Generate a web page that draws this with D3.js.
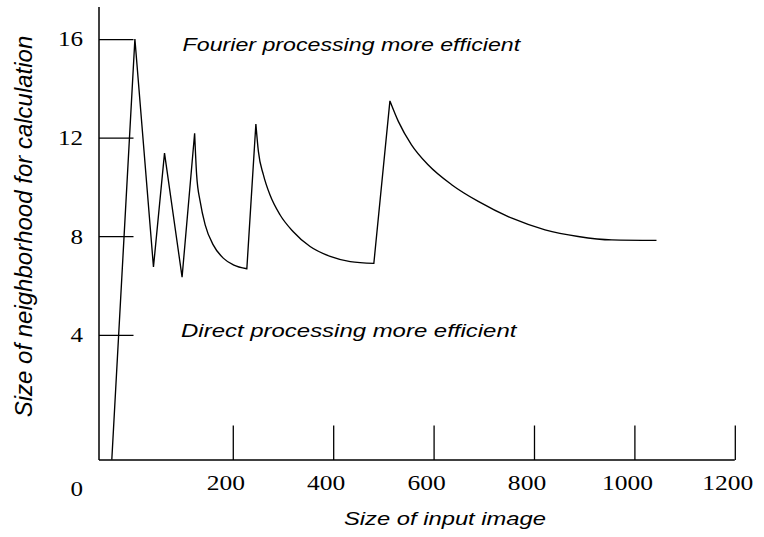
<!DOCTYPE html>
<html>
<head>
<meta charset="utf-8">
<script src="https://cdn.jsdelivr.net/npm/d3@7"></script>
<style>
  html, body { margin: 0; padding: 0; background: #fff; }
  svg { display: block; }
</style>
</head>
<body>
<div id="chart"></div>
<script>
// ---- data ----
const inputSize = [-41, 5, 42, 64, 99, 124, 128, 135, 145, 161, 181, 201, 228,
  246, 251, 261, 274, 294, 320, 354, 394, 434, 481,
  513, 530, 556, 589, 636, 689, 756, 822, 888, 955, 1044];
const neighborhood = [-1.07, 16.0, 6.75, 11.37, 6.34, 12.18, 10.49, 9.41, 8.46, 7.65, 7.11, 6.84, 6.68,
  12.55, 11.44, 10.49, 9.68, 8.87, 8.19, 7.58, 7.18, 6.97, 6.90,
  13.49, 12.65, 11.71, 10.90, 10.09, 9.41, 8.73, 8.26, 7.99, 7.85, 7.83];
// index ranges of the smooth (decaying) parts of the curve
const curvedRuns = [[5, 12], [13, 22], [23, 33]];

const xTickValues = [200, 400, 600, 800, 1000, 1200];
const yTickValues = [4, 8, 12, 16];
const originLabel = "0";
const xTitle = "Size of input image";
const yTitle = "Size of neighborhood for calculation";
const annotations = ["Fourier processing more efficient", "Direct processing more efficient"];
const annotationSize = [100, 97];
const annotationLevel = [15.5, 3.9];

// ---- layout ----
const W = 764, H = 537;
const svg = d3.select("#chart").append("svg").attr("width", W).attr("height", H);

const x = d3.scaleLinear().domain([-66.5, 1200]).range([99, 734.8]);
const y = d3.scaleLinear().domain([-1.08, 17.3]).range([460, 7]);

const serif = "'Liberation Serif', 'Times New Roman', serif";
const sans = "'Liberation Sans', Arial, Helvetica, sans-serif";

function stretch(sel, k) {
  sel.each(function () {
    const len = this.getComputedTextLength();
    d3.select(this).attr("textLength", len * k).attr("lengthAdjust", "spacingAndGlyphs");
  });
}

// axes lines
const x0 = x.range()[0], yBase = y.range()[0];
svg.append("line").attr("x1", x0).attr("x2", x0).attr("y1", y(17.3)).attr("y2", yBase)
  .attr("stroke", "#000").attr("stroke-width", 1.5);
svg.append("line").attr("x1", x0).attr("x2", x(1200)).attr("y1", yBase).attr("y2", yBase)
  .attr("stroke", "#000").attr("stroke-width", 1.5);

// y axis ticks (inward)
const gy = svg.append("g").attr("transform", `translate(${x0},0)`)
  .call(d3.axisLeft(y).tickValues(yTickValues).tickSizeInner(-34.5).tickSizeOuter(0).tickPadding(16).tickFormat(d3.format("d")));
gy.select(".domain").remove();
gy.selectAll(".tick line").attr("stroke", "#000").attr("stroke-width", 1.3);
gy.selectAll(".tick text").attr("font-family", serif).attr("font-size", 22).attr("fill", "#000")
  .attr("dy", "0.31em");
stretch(gy.selectAll(".tick text"), 1.14);

// x axis ticks (inward)
const gx = svg.append("g").attr("transform", `translate(0,${yBase})`)
  .call(d3.axisBottom(x).tickValues(xTickValues).tickSizeInner(-34.5).tickSizeOuter(0).tickPadding(0).tickFormat(d3.format("d")));
gx.select(".domain").remove();
gx.selectAll(".tick line").attr("stroke", "#000").attr("stroke-width", 1.3);
gx.selectAll(".tick text").attr("font-family", serif).attr("font-size", 22).attr("fill", "#000")
  .attr("y", 30).attr("dy", 0).attr("dx", -7.5);
stretch(gx.selectAll(".tick text"), 1.16);

// origin label
const o = svg.append("text").attr("x", x0 - 16).attr("y", yBase + 36)
  .attr("text-anchor", "end").attr("font-family", serif).attr("font-size", 22).text(originLabel);
stretch(o, 1.14);

// curve
const pts = inputSize.map((v, i) => [x(v), y(neighborhood[i])]);
const linear = d3.line().curve(d3.curveLinear);
const smooth = d3.line().curve(d3.curveMonotoneX);
let pieces = [];
let cursor = 0;
curvedRuns.forEach(([a, b]) => {
  if (a > cursor) pieces.push({ run: pts.slice(cursor, a + 1), gen: linear });
  pieces.push({ run: pts.slice(a, b + 1), gen: smooth });
  cursor = b;
});
if (cursor < pts.length - 1) pieces.push({ run: pts.slice(cursor), gen: linear });
let d = "";
pieces.forEach((p, i) => {
  let s = p.gen(p.run);
  if (i > 0) s = s.replace(/^M[^LC]*/, "");
  d += s;
});
svg.append("path").attr("d", d).attr("fill", "none").attr("stroke", "#000")
  .attr("stroke-width", 1.35).attr("stroke-linejoin", "miter").attr("stroke-miterlimit", 2);

// annotations
const annotationStretch = [1.22, 1.26];
annotations.forEach((t, i) => {
  const a = svg.append("text").attr("x", x(annotationSize[i])).attr("y", y(annotationLevel[i]))
    .attr("font-family", sans).attr("font-style", "italic").attr("font-size", 19).attr("fill", "#000").text(t);
  stretch(a, annotationStretch[i]);
});

// axis titles
const xt = svg.append("text").attr("x", 445).attr("y", 525).attr("text-anchor", "middle")
  .attr("font-family", sans).attr("font-style", "italic").attr("font-size", 19).attr("fill", "#000").text(xTitle);
stretch(xt, 1.25);

svg.append("text").attr("transform", "translate(31.5,226.5) rotate(-90)").attr("text-anchor", "middle")
  .attr("font-family", sans).attr("font-style", "italic").attr("font-size", 24).attr("fill", "#000").text(yTitle);
</script>
</body>
</html>
